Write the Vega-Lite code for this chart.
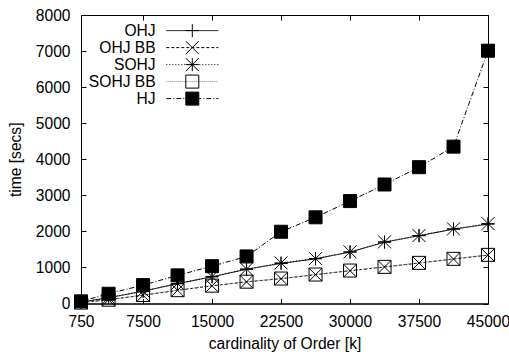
{
  "$schema": "https://vega.github.io/schema/vega-lite/v6.json",
  "width": 407,
  "height": 288.5,
  "autosize": {"type": "none"},
  "padding": {"left": 81, "top": 15, "right": 21, "bottom": 48.5},
  "background": "white",
  "config": {
    "font": "Liberation Sans",
    "view": {"stroke": "black", "strokeWidth": 1},
    "axis": {
      "grid": false,
      "labelFont": "Liberation Sans",
      "labelFontSize": 15.6,
      "labelColor": "black",
      "titleFont": "Liberation Sans",
      "titleFontSize": 15.6,
      "titleFontWeight": "normal",
      "titleColor": "black",
      "tickColor": "black",
      "domainColor": "black",
      "tickSize": -5,
      "tickWidth": 1,
      "domainWidth": 1
    }
  },
  "data": {
    "values": [
      {"x": 750, "series": "OHJ", "time": 40},
      {"x": 3750, "series": "OHJ", "time": 160},
      {"x": 7500, "series": "OHJ", "time": 340},
      {"x": 11250, "series": "OHJ", "time": 550},
      {"x": 15000, "series": "OHJ", "time": 740},
      {"x": 18750, "series": "OHJ", "time": 950},
      {"x": 22500, "series": "OHJ", "time": 1110},
      {"x": 26250, "series": "OHJ", "time": 1240},
      {"x": 30000, "series": "OHJ", "time": 1425},
      {"x": 33750, "series": "OHJ", "time": 1700},
      {"x": 37500, "series": "OHJ", "time": 1880},
      {"x": 41250, "series": "OHJ", "time": 2060},
      {"x": 45000, "series": "OHJ", "time": 2200},
      {"x": 750, "series": "OHJ BB", "time": 25},
      {"x": 3750, "series": "OHJ BB", "time": 105},
      {"x": 7500, "series": "OHJ BB", "time": 230},
      {"x": 11250, "series": "OHJ BB", "time": 365},
      {"x": 15000, "series": "OHJ BB", "time": 490},
      {"x": 18750, "series": "OHJ BB", "time": 600},
      {"x": 22500, "series": "OHJ BB", "time": 688},
      {"x": 26250, "series": "OHJ BB", "time": 800},
      {"x": 30000, "series": "OHJ BB", "time": 910},
      {"x": 33750, "series": "OHJ BB", "time": 1012},
      {"x": 37500, "series": "OHJ BB", "time": 1122},
      {"x": 41250, "series": "OHJ BB", "time": 1232},
      {"x": 45000, "series": "OHJ BB", "time": 1342},
      {"x": 750, "series": "SOHJ", "time": 40},
      {"x": 3750, "series": "SOHJ", "time": 160},
      {"x": 7500, "series": "SOHJ", "time": 345},
      {"x": 11250, "series": "SOHJ", "time": 555},
      {"x": 15000, "series": "SOHJ", "time": 745},
      {"x": 18750, "series": "SOHJ", "time": 955},
      {"x": 22500, "series": "SOHJ", "time": 1125},
      {"x": 26250, "series": "SOHJ", "time": 1245},
      {"x": 30000, "series": "SOHJ", "time": 1432},
      {"x": 33750, "series": "SOHJ", "time": 1709},
      {"x": 37500, "series": "SOHJ", "time": 1884},
      {"x": 41250, "series": "SOHJ", "time": 2069},
      {"x": 45000, "series": "SOHJ", "time": 2216},
      {"x": 750, "series": "SOHJ BB", "time": 25},
      {"x": 3750, "series": "SOHJ BB", "time": 105},
      {"x": 7500, "series": "SOHJ BB", "time": 235},
      {"x": 11250, "series": "SOHJ BB", "time": 370},
      {"x": 15000, "series": "SOHJ BB", "time": 495},
      {"x": 18750, "series": "SOHJ BB", "time": 605},
      {"x": 22500, "series": "SOHJ BB", "time": 692},
      {"x": 26250, "series": "SOHJ BB", "time": 803},
      {"x": 30000, "series": "SOHJ BB", "time": 914},
      {"x": 33750, "series": "SOHJ BB", "time": 1016},
      {"x": 37500, "series": "SOHJ BB", "time": 1127},
      {"x": 41250, "series": "SOHJ BB", "time": 1238},
      {"x": 45000, "series": "SOHJ BB", "time": 1349},
      {"x": 750, "series": "HJ", "time": 60},
      {"x": 3750, "series": "HJ", "time": 270},
      {"x": 7500, "series": "HJ", "time": 510},
      {"x": 11250, "series": "HJ", "time": 780},
      {"x": 15000, "series": "HJ", "time": 1035},
      {"x": 18750, "series": "HJ", "time": 1305},
      {"x": 22500, "series": "HJ", "time": 1990},
      {"x": 26250, "series": "HJ", "time": 2390},
      {"x": 30000, "series": "HJ", "time": 2840},
      {"x": 33750, "series": "HJ", "time": 3300},
      {"x": 37500, "series": "HJ", "time": 3780},
      {"x": 41250, "series": "HJ", "time": 4350},
      {"x": 45000, "series": "HJ", "time": 7010}
    ]
  },
  "layer": [
    {
      "mark": {"type": "line", "strokeWidth": 1},
      "encoding": {
        "x": {
          "field": "x", "type": "quantitative",
          "scale": {"domain": [750, 45000], "nice": false, "zero": false},
          "axis": {
            "values": [750, 7500, 15000, 22500, 30000, 37500, 45000],
            "format": "d",
            "title": "cardinality of Order [k]",
            "labelPadding": 15.5,
            "labelFlush": false,
            "titleY": 44.5,
            "titleBaseline": "alphabetic"
          }
        },
        "y": {
          "field": "time", "type": "quantitative",
          "scale": {"domain": [0, 8000], "nice": false},
          "axis": {
            "values": [0, 1000, 2000, 3000, 4000, 5000, 6000, 7000, 8000],
            "format": "d",
            "title": "time [secs]",
            "labelPadding": 16,
            "labelFlush": false,
            "titleX": -61,
            "titleBaseline": "alphabetic"
          }
        },
        "strokeDash": {
          "field": "series", "type": "nominal",
          "sort": ["OHJ", "OHJ BB", "SOHJ", "SOHJ BB", "HJ"],
          "scale": {"range": [[1, 0], [3, 2], [1, 2], [1, 1], [5, 2, 1, 2]]},
          "legend": {
            "orient": "none", "legendX": 103.5, "legendY": 7.8,
            "title": null, "padding": 0,
            "symbolType": "M-4,0L4,0", "symbolSize": 169,
            "symbolStrokeWidth": 1,
            "labelOpacity": 0, "labelFontSize": 15.6, "labelFont": "Liberation Sans",
            "rowPadding": -2.2,
            "encode": {"symbols": {"update": {"stroke": {"signal": "datum.value === 'SOHJ BB' ? '#808080' : 'black'"}, "strokeWidth": {"value": 1}}}}
          }
        },
        "stroke": {
          "field": "series", "type": "nominal",
          "sort": ["OHJ", "OHJ BB", "SOHJ", "SOHJ BB", "HJ"],
          "scale": {"range": ["black", "black", "black", "#808080", "black"]},
          "legend": null
        }
      }
    },
    {
      "mark": {"type": "point", "filled": true, "opacity": 1, "stroke": "black", "strokeWidth": 1, "size": 169},
      "encoding": {
        "x": {"field": "x", "type": "quantitative", "axis": null},
        "y": {"field": "time", "type": "quantitative", "axis": null},
        "shape": {
          "field": "series", "type": "nominal",
          "scale": {
            "domain": ["OHJ", "OHJ BB", "SOHJ", "SOHJ BB", "HJ"],
            "range": [
              "M-1,0L1,0M0,-1L0,1",
              "M-1,-1L1,1M-1,1L1,-1",
              "M-1,0L1,0M0,-1L0,1M-1,-1L1,1M-1,1L1,-1",
              "M-1,-1L1,-1L1,1L-1,1Z",
              "M-1,-1L1,-1L1,1L-1,1Z"
            ]
          },
          "legend": {
            "orient": "none", "legendX": 103.5, "legendY": 7.8,
            "title": null, "padding": 0,
            "symbolSize": 169, "symbolStrokeWidth": 1, "symbolStrokeColor": "black", "symbolOpacity": 1,
            "labelAlign": "right", "labelOffset": -44.5,
            "labelFontSize": 15.6, "labelFont": "Liberation Sans", "labelColor": "black",
            "rowPadding": -2.2,
            "encode": {"symbols": {"update": {"stroke": {"value": "black"}, "strokeWidth": {"value": 1}}}}
          }
        },
        "fill": {
          "field": "series", "type": "nominal",
          "scale": {
            "domain": ["OHJ", "OHJ BB", "SOHJ", "SOHJ BB", "HJ"],
            "range": ["transparent", "transparent", "transparent", "transparent", "black"]
          },
          "legend": {
            "orient": "none", "legendX": 103.5, "legendY": 7.8,
            "title": null, "padding": 0,
            "symbolSize": 169, "symbolStrokeWidth": 1, "symbolStrokeColor": "black", "symbolOpacity": 1,
            "labelAlign": "right", "labelOffset": -44.5,
            "labelFontSize": 15.6, "labelFont": "Liberation Sans", "labelColor": "black",
            "rowPadding": -2.2,
            "encode": {"symbols": {"update": {"stroke": {"value": "black"}, "strokeWidth": {"value": 1}}}}
          }
        }
      }
    },
    {
      "mark": {"type": "point", "opacity": 0},
      "encoding": {
        "x": {
          "field": "x", "type": "quantitative",
          "axis": {"orient": "top", "values": [750, 7500, 15000, 22500, 30000, 37500, 45000], "labels": false, "title": null, "domain": false}
        },
        "y": {
          "field": "time", "type": "quantitative",
          "axis": {"orient": "right", "values": [0, 1000, 2000, 3000, 4000, 5000, 6000, 7000, 8000], "labels": false, "title": null, "domain": false}
        }
      }
    }
  ],
  "resolve": {"axis": {"x": "independent", "y": "independent"}}
}
